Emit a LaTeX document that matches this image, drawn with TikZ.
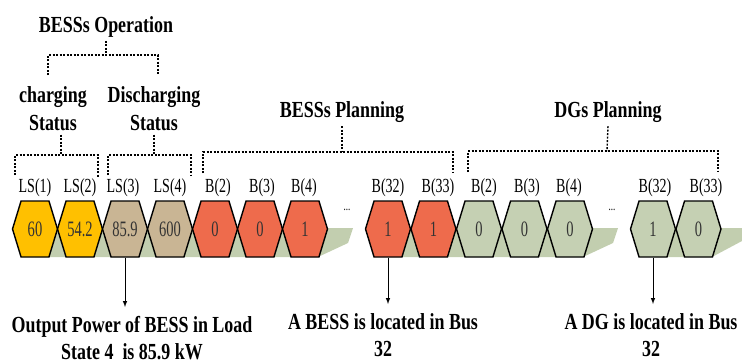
\documentclass[tikz,border=0pt]{standalone}
\usepackage{fontspec}
\setmainfont{Liberation Serif}
\usetikzlibrary{arrows}
\usetikzlibrary{shapes}

\definecolor{lsyellow}{HTML}{FFC000}
\definecolor{lstan}{HTML}{C9B594}
\definecolor{bessred}{HTML}{EE6B4C}
\definecolor{dggreen}{HTML}{C5D0B3}
\definecolor{shadowgreen}{HTML}{C2CEAF}
\newcommand{\nrw}[1]{\scalebox{0.66}[1]{#1}}

\begin{document}
\begin{tikzpicture}[x = 1pt, y = -1pt]
\tikzstyle{HexStyle}=[shape = signal, signal to = west and east,
                      signal pointer angle = 146,
                      minimum width = 45pt, minimum height = 56pt,
                      inner sep = 0pt, line width = 1.4pt,
                      font = \fontsize{22}{22}\selectfont, text = black!80,
                      draw]
\tikzstyle{TagStyle}=[font = \fontsize{20}{20}\selectfont, xscale = 0.7]
\tikzstyle{HeadStyle}=[font = \bfseries\fontsize{23}{28}\selectfont,
                       align = center, xscale = 0.78]
\tikzstyle{NoteStyle}=[font = \bfseries\fontsize{23}{27}\selectfont,
                       align = center, xscale = 0.78, anchor = north,
                       inner sep = 0pt]
\tikzstyle{BraceStyle}=[dash pattern = on 2pt off 1.5pt, line width = 1.4pt]
\tikzstyle{ArrowStyle}=[-latex, line width = 1pt, shorten >= 9pt]
\useasboundingbox (0,0) rectangle (742,364);
\fill[shadowgreen] (35,257) -- (35,228) -- (353,228) -- (348,243) -- (318,257) -- cycle;
\fill[shadowgreen] (388,257) -- (388,228) -- (618,228) -- (613,243) -- (583,257) -- cycle;
\fill[shadowgreen] (653,257) -- (653,228) -- (742,228) -- (742,241) -- (712,257) -- cycle;
\node[HexStyle, fill = lsyellow] (ls1) at (35,229) {\nrw{60}};
\node[HexStyle, fill = lsyellow] (ls2) at (80,229) {\nrw{54.2}};
\node[HexStyle, fill = lstan] (ls3) at (125,229) {\nrw{85.9}};
\node[HexStyle, fill = lstan] (ls4) at (170,229) {\nrw{600}};
\node[HexStyle, fill = bessred] (bb2) at (215,229) {\nrw{0}};
\node[HexStyle, fill = bessred] (bb3) at (260,229) {\nrw{0}};
\node[HexStyle, fill = bessred] (bb4) at (305,229) {\nrw{1}};
\node[HexStyle, fill = bessred] (bb32) at (388,229) {\nrw{1}};
\node[HexStyle, fill = bessred] (bb33) at (433.5,229) {\nrw{1}};
\node[HexStyle, fill = dggreen] (dg2) at (479,229) {\nrw{0}};
\node[HexStyle, fill = dggreen] (dg3) at (524.5,229) {\nrw{0}};
\node[HexStyle, fill = dggreen] (dg4) at (570,229) {\nrw{0}};
\node[HexStyle, fill = dggreen] (dg32) at (653,229) {\nrw{1}};
\node[HexStyle, fill = dggreen] (dg33) at (698.5,229) {\nrw{0}};
\node[TagStyle] (tls1) at (35,188) {LS(1)};
\node[TagStyle] (tls2) at (80,188) {LS(2)};
\node[TagStyle] (tls3) at (123,188) {LS(3)};
\node[TagStyle] (tls4) at (170,188) {LS(4)};
\node[TagStyle] (tbb2) at (218,188) {B(2)};
\node[TagStyle] (tbb3) at (262,188) {B(3)};
\node[TagStyle] (tbb4) at (304,188) {B(4)};
\node[TagStyle] (tbb32) at (388,188) {B(32)};
\node[TagStyle] (tbb33) at (438,188) {B(33)};
\node[TagStyle] (tdg2) at (484,188) {B(2)};
\node[TagStyle] (tdg3) at (527,188) {B(3)};
\node[TagStyle] (tdg4) at (569,188) {B(4)};
\node[TagStyle] (tdg32) at (655,188) {B(32)};
\node[TagStyle] (tdg33) at (706,188) {B(33)};
\node[TagStyle, font = \fontsize{13}{13}\selectfont] (dots1) at (347,210) {...};
\node[TagStyle, font = \fontsize{13}{13}\selectfont] (dots2) at (612,210) {...};
\node[HeadStyle] (op) at (106,27) {BESSs Operation};
\node[HeadStyle] (chg) at (53,109) {charging\\Status};
\node[HeadStyle] (dis) at (154,109) {Discharging\\Status};
\node[HeadStyle] (bp) at (342,112) {BESSs Planning};
\node[HeadStyle] (dp) at (608,112) {DGs Planning};
\coordinate (opj) at (106,55);
\coordinate (chgj) at (61,155);
\coordinate (disj) at (154,155);
\coordinate (bpj) at (342,152);
\coordinate (dpj) at (607,151);
\draw[BraceStyle] (op.south) -- (opj);
\draw[BraceStyle] (48,75) |- (opj) -| (158,75);
\draw[BraceStyle] (chg.south -| chgj) -- (chgj);
\draw[BraceStyle] (15,175) |- (chgj) -| (98,177);
\draw[BraceStyle] (dis.south -| disj) -- (disj);
\draw[BraceStyle] (108,175) |- (disj) -| (191,175);
\draw[BraceStyle] (bp.south) -- (bpj);
\draw[BraceStyle] (203,173) |- (bpj) -| (453,173);
\draw[BraceStyle] (dp.south) -- (dpj);
\draw[BraceStyle] (468,172) |- (dpj) -| (718,172);
\node[NoteStyle] (out1) at (132,316) {Output Power of BESS in Load\\State 4~ is 85.9 kW};
\node[NoteStyle] (out2) at (383,313) {A BESS is located in Bus\\32};
\node[NoteStyle] (out3) at (651,313) {A DG is located in Bus\\32};
\draw[ArrowStyle] (ls3.south) -- (ls3.south |- out1.north);
\draw[ArrowStyle] (bb32.south) -- (bb32.south |- out2.north);
\draw[ArrowStyle] (dg32.south) -- (dg32.south |- out3.north);
\end{tikzpicture}
\end{document}
